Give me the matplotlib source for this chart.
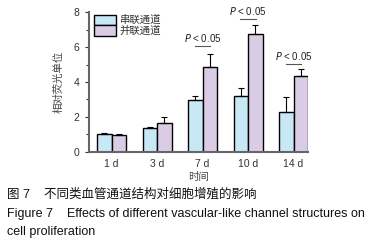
import matplotlib
matplotlib.use("Agg")
import matplotlib.pyplot as plt
import numpy as np
from matplotlib.ticker import MultipleLocator

plt.rcParams['font.family'] = ['Liberation Sans', 'Noto Sans CJK SC']

days = ["1 d", "3 d", "7 d", "10 d", "14 d"]
series_vals = [1.03, 1.35, 2.97, 3.22, 2.30]
series_err = [0.03, 0.08, 0.23, 0.42, 0.83]
parallel_vals = [0.97, 1.64, 4.84, 6.72, 4.34]
parallel_err = [0.03, 0.36, 0.76, 0.54, 0.38]
sig_groups = [2, 3, 4]
sig_line_y = [6.06, 7.6, 5.03]

fig = plt.figure(figsize=(3.92, 2.47), dpi=100)
ax = fig.add_axes([0.227, 0.385, 0.559, 0.566])

x = np.arange(len(days))
w = 0.32
blue = "#c9e8f6"
purple = "#dacce5"
ax.bar(x - w / 2, series_vals, w, color=blue, edgecolor="black", linewidth=1.0, label="串联通道")
ax.bar(x + w / 2, parallel_vals, w, color=purple, edgecolor="black", linewidth=1.0, label="并联通道")
ax.errorbar(x - w / 2, series_vals, yerr=[np.zeros(5), series_err], fmt="none",
            ecolor="black", elinewidth=0.8, capsize=2.5, capthick=0.8)
ax.errorbar(x + w / 2, parallel_vals, yerr=[np.zeros(5), parallel_err], fmt="none",
            ecolor="black", elinewidth=0.8, capsize=2.5, capthick=0.8)

# significance marks
for g, ly in zip(sig_groups, sig_line_y):
    ax.plot([g - 0.17, g + 0.17], [ly, ly], color="#555555", lw=0.8)
    ax.text(g, ly + 0.45, "$\\it{P}$ < 0.05", ha="center", va="center", fontsize=7, color="#222222")

ax.set_xlim(-0.5, 4.32)
ax.set_ylim(0, 8)
ax.set_xticks(x)
ax.set_xticklabels(days, fontsize=7.5, color="#333333")
ax.tick_params(axis="x", length=0, pad=5)
ax.yaxis.set_major_locator(MultipleLocator(2))
ax.yaxis.set_minor_locator(MultipleLocator(1))
ax.tick_params(axis="y", which="major", length=3, width=0.8, labelsize=7.5, colors="#333333", pad=4)
ax.tick_params(axis="y", which="minor", length=2, width=0.8, colors="#333333")
for s in ["top", "right"]:
    ax.spines[s].set_visible(False)
ax.spines["left"].set_color("#666666")
ax.spines["left"].set_linewidth(1.5)
ax.spines["bottom"].set_color("#666666")
ax.spines["bottom"].set_linewidth(1.5)
ax.set_ylabel("相对荧光单位", fontsize=7.5, color="#444444", labelpad=7)
ax.set_xlabel("时间", fontsize=7.5, color="#444444", labelpad=2)

leg = ax.legend(loc="upper left", bbox_to_anchor=(0.02, 0.99), fontsize=7.5, frameon=False,
                handlelength=2.1, handleheight=1.15, labelspacing=0.0, handletextpad=0.3,
                borderaxespad=0.0, borderpad=0.1)
for t in leg.get_texts():
    t.set_color("#333333")

fig.text(0.018, 0.215, "图 7    不同类血管通道结构对细胞增殖的影响", fontsize=9, va="center", color="#111111")
fig.text(0.018, 0.134, "Figure 7    Effects of different vascular-like channel structures on",
         fontsize=9, va="center", color="#111111")
fig.text(0.018, 0.061, "cell proliferation", fontsize=9, va="center", color="#111111")

fig.savefig("out.png", dpi=100)
